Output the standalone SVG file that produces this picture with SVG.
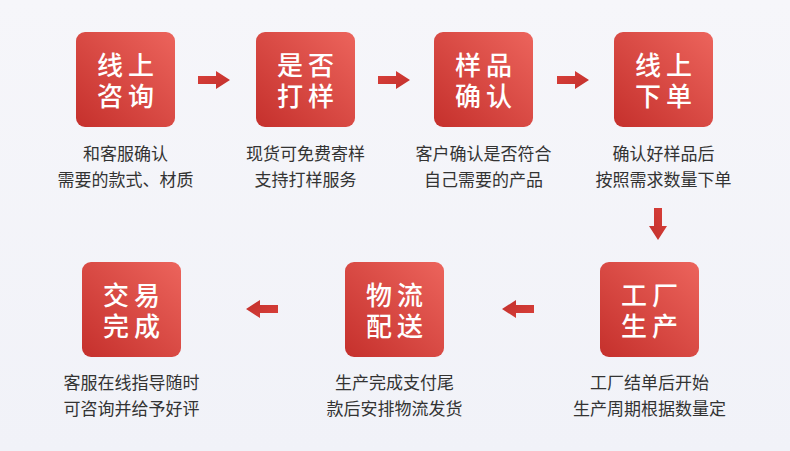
<svg xmlns="http://www.w3.org/2000/svg" width="790" height="451" viewBox="0 0 790 451">
<defs>
<linearGradient id="bg" x1="0" y1="0" x2="0" y2="1"><stop offset="0" stop-color="#f6f6fa"/><stop offset="1" stop-color="#f1f2f8"/></linearGradient>
<linearGradient id="box" x1="1" y1="0" x2="0" y2="1"><stop offset="0" stop-color="#ec645c"/><stop offset="1" stop-color="#c5302c"/></linearGradient>
<linearGradient id="arr" x1="0" y1="0" x2="1" y2="1"><stop offset="0" stop-color="#d9403a"/><stop offset="1" stop-color="#c2302c"/></linearGradient>
<path id="ar" d="M-16,-4 H2 V-9 L16,0 L2,9 V4 H-16 Z"/>
<style>
.b{fill:url(#box)}
.t{font-family:"Liberation Sans","Noto Sans CJK SC",sans-serif;font-size:26px;font-weight:500;letter-spacing:5px;fill:#fff;text-anchor:middle}
.c{font-family:"Noto Sans CJK SC","Noto Sans",sans-serif;font-size:17px;fill:#333;text-anchor:middle}
.a{fill:url(#arr)}
</style>
</defs>
<rect width="790" height="451" fill="url(#bg)"/>
<g id="n1"><rect class="b" x="76" y="32" width="99" height="95" rx="9"/><text class="t" x="128" y="75">线上<tspan x="128" dy="31">咨询</tspan></text><text class="c" x="125.5" y="160">和客服确认<tspan x="125.5" dy="26">需要的款式、材质</tspan></text></g>
<g id="n2"><rect class="b" x="256" y="32" width="99" height="95" rx="9"/><text class="t" x="308" y="75">是否<tspan x="308" dy="31">打样</tspan></text><text class="c" x="305.5" y="160">现货可免费寄样<tspan x="305.5" dy="26">支持打样服务</tspan></text></g>
<g id="n3"><rect class="b" x="434" y="32" width="99" height="95" rx="9"/><text class="t" x="486" y="75">样品<tspan x="486" dy="31">确认</tspan></text><text class="c" x="483.5" y="160">客户确认是否符合<tspan x="483.5" dy="26">自己需要的产品</tspan></text></g>
<g id="n4"><rect class="b" x="614" y="32" width="99" height="95" rx="9"/><text class="t" x="666" y="75">线上<tspan x="666" dy="31">下单</tspan></text><text class="c" x="663.5" y="160">确认好样品后<tspan x="663.5" dy="26">按照需求数量下单</tspan></text></g>
<g id="n5"><rect class="b" x="600" y="262" width="99" height="95" rx="9"/><text class="t" x="652" y="305">工厂<tspan x="652" dy="31">生产</tspan></text><text class="c" x="649.5" y="389">工厂结单后开始<tspan x="649.5" dy="26">生产周期根据数量定</tspan></text></g>
<g id="n6"><rect class="b" x="345" y="262" width="99" height="95" rx="9"/><text class="t" x="397" y="305">物流<tspan x="397" dy="31">配送</tspan></text><text class="c" x="394.5" y="389">生产完成支付尾<tspan x="394.5" dy="26">款后安排物流发货</tspan></text></g>
<g id="n7"><rect class="b" x="82" y="262" width="99" height="95" rx="9"/><text class="t" x="134" y="305">交易<tspan x="134" dy="31">完成</tspan></text><text class="c" x="131.5" y="389">客服在线指导随时<tspan x="131.5" dy="26">可咨询并给予好评</tspan></text></g>
<g id="connectors">
<use href="#ar" class="a" transform="translate(214,80)"/>
<use href="#ar" class="a" transform="translate(394,80)"/>
<use href="#ar" class="a" transform="translate(573,80)"/>
<use href="#ar" class="a" transform="translate(658,224) rotate(90)"/>
<use href="#ar" class="a" transform="translate(518,309) rotate(180)"/>
<use href="#ar" class="a" transform="translate(262,309) rotate(180)"/>
</g>
</svg>
